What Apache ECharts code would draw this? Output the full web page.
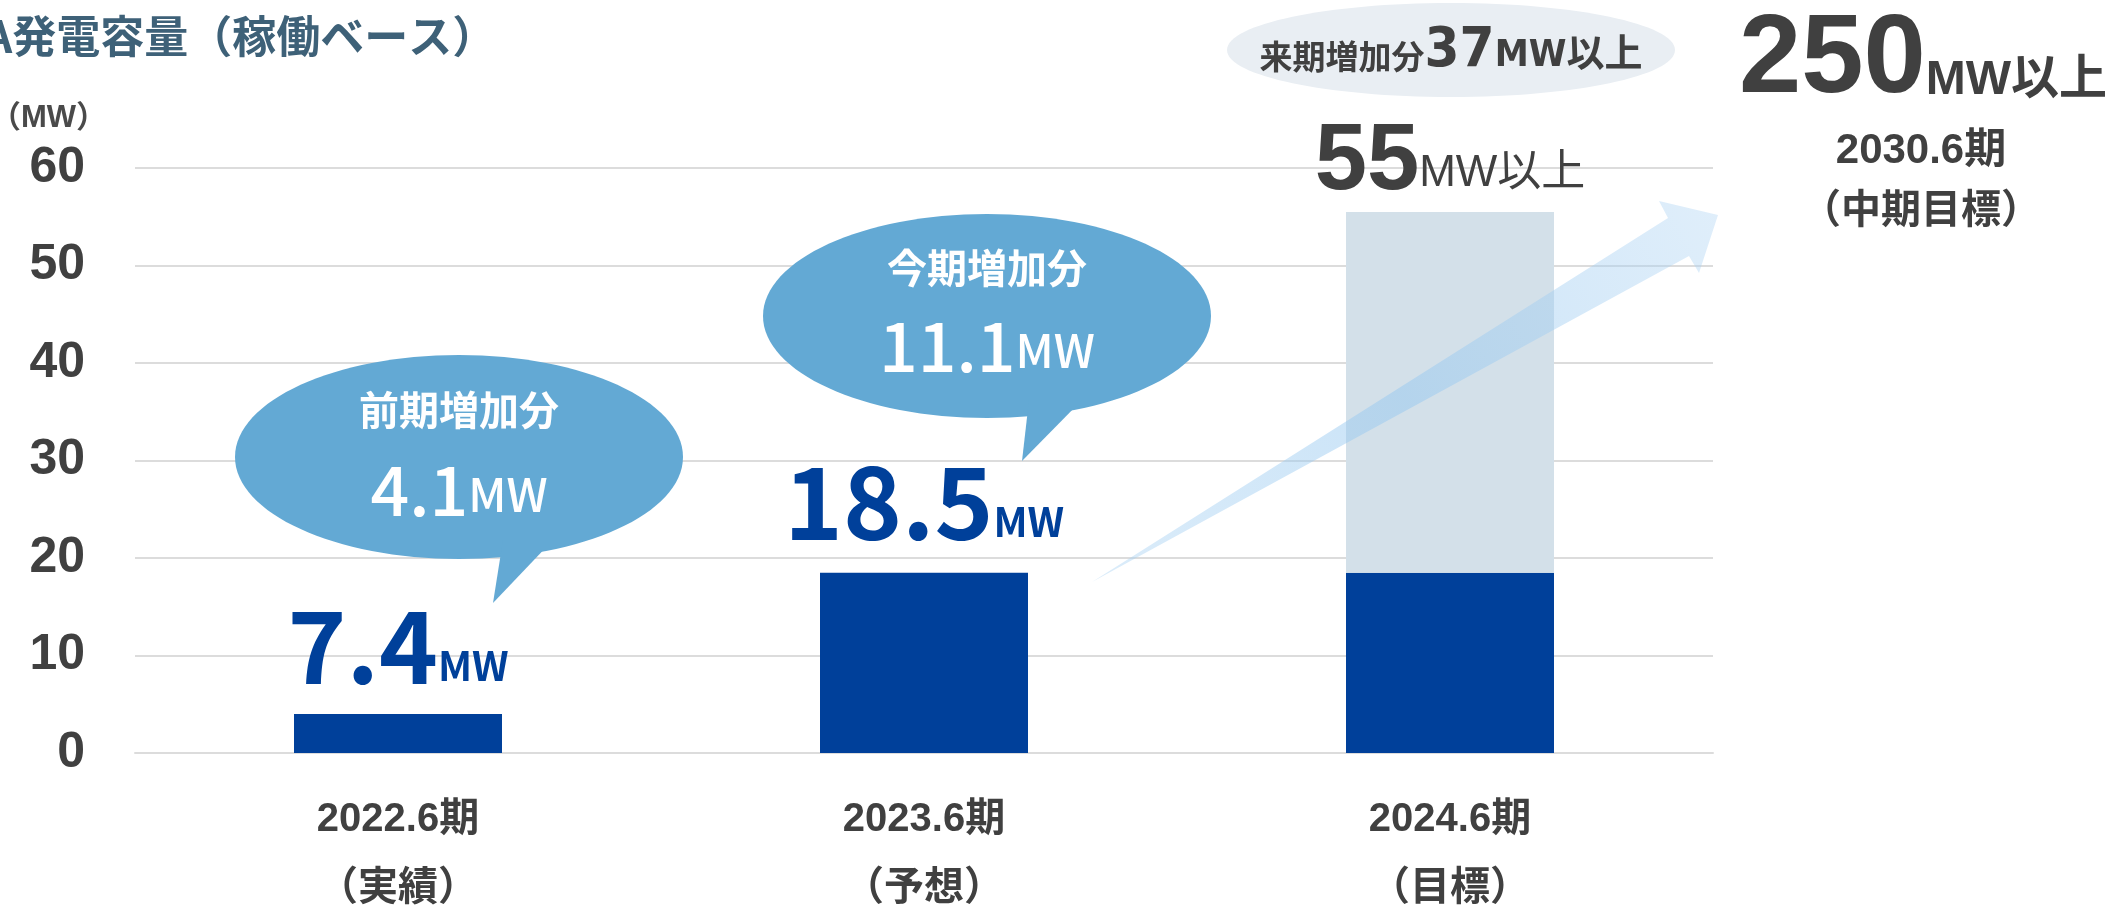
<!DOCTYPE html>
<html>
<head>
<meta charset="utf-8">
<script src="https://cdn.jsdelivr.net/npm/echarts@6/dist/echarts.min.js"></script>
<style>
html, body { margin: 0; padding: 0; background: #fff; }
#main { width: 2121px; height: 911px; }
</style>
</head>
<body>
<div id="main"></div>
<script>
// data
var periods = ['2022.6期', '2023.6期', '2024.6期'];
var notes = ['（実績）', '（予想）', '（目標）'];
var installed = [4.0, 18.5, 18.5];
var nextAdd = ['-', '-', 37];
var valueLabels = ['7.4', '18.5', '55'];
var unitLabels = ['MW', 'MW', 'MW以上'];
var yTicks = [0, 10, 20, 30, 40, 50, 60];
var bubbleTitles = ['前期増加分', '今期増加分'];
var bubbleValues = ['4.1', '11.1'];
var nextText = ['来期増加分', '37', 'MW以上'];
var goalText = ['250', 'MW以上', '2030.6期', '（中期目標）'];

var chart = echarts.init(document.getElementById('main'));

var dark = '#00409a';
var light = '#d3e0e9';
var textDark = '#404040';
var bubble = '#63a9d4';
var cjk = "'Noto Sans CJK JP', 'Noto Sans', sans-serif";
var narrow = "'DejaVu Sans Condensed', 'Liberation Sans Narrow', 'Liberation Sans', 'Noto Sans CJK JP', sans-serif";
var sans = "'Liberation Sans', 'Noto Sans CJK JP', sans-serif";

var labelDist = [18, 21, 18];

var option = {
	backgroundColor: '#fff',
	animation: false,
	grid: { left: 135, right: 408, top: 168, bottom: 158, outerBoundsMode: 'none', containLabel: false },
	xAxis: {
		type: 'category',
		data: periods.map(function(p, i) { return p + '\n' + notes[i]; }),
		axisLine: { lineStyle: { color: '#dcdcdc', width: 2 } },
		axisTick: { show: false },
		axisLabel: {
			margin: 32,
			fontSize: 40,
			fontWeight: 'bold',
			color: textDark,
			lineHeight: 69,
			fontFamily: sans
		}
	},
	yAxis: {
		type: 'value',
		min: yTicks[0],
		max: yTicks[yTicks.length - 1],
		interval: yTicks[1] - yTicks[0],
		name: '（MW）',
		nameLocation: 'end',
		nameGap: 34,
		nameTextStyle: {
			fontSize: 31,
			fontWeight: 'bold',
			color: '#4a4a4a',
			fontFamily: sans,
			align: 'right',
			padding: [0, 28, 0, 0]
		},
		axisLine: { show: false },
		axisTick: { show: false },
		splitLine: { lineStyle: { color: '#dcdcdc', width: 2 } },
		axisLabel: {
			margin: 50,
			fontSize: 50,
			fontWeight: 'bold',
			color: textDark,
			fontFamily: sans
		}
	},
	series: [{
		name: 'installed',
		type: 'bar',
		stack: 'mw',
		barWidth: 208,
		itemStyle: { color: dark },
		data: installed.map(function(v, i) {
			return { value: v, label: { show: i < 2, distance: labelDist[i] } };
		}),
		label: {
			position: 'top',
			formatter: function(p) {
				return '{big|' + valueLabels[p.dataIndex] + '}{unit|' + unitLabels[p.dataIndex] + '}';
			},
			rich: {
				big: { fontSize: 100, fontWeight: 'bold', color: dark, fontFamily: cjk, lineHeight: 100, verticalAlign: 'bottom' },
				unit: { fontSize: 40, fontWeight: 'bold', color: dark, fontFamily: cjk, lineHeight: 40, verticalAlign: 'bottom', padding: [0, 0, 10, 0] }
			}
		}
	}, {
		name: 'next',
		type: 'bar',
		stack: 'mw',
		barWidth: 208,
		itemStyle: { color: light },
		data: nextAdd,
		label: {
			show: true,
			position: 'top',
			distance: 2,
			formatter: function(p) {
				return '{big|' + valueLabels[p.dataIndex] + '}{unit|' + unitLabels[p.dataIndex] + '}';
			},
			rich: {
				big: { fontSize: 94, fontWeight: 'bold', color: textDark, fontFamily: sans, lineHeight: 100, verticalAlign: 'bottom' },
				unit: { fontSize: 44, color: textDark, fontFamily: sans, lineHeight: 44, verticalAlign: 'bottom', padding: [0, 0, 14, 0] }
			}
		}
	}],
	graphic: [
		{
			type: 'text', x: -16, y: 36, z: 10,
			style: { text: 'A発電容量（稼働ベース）', fill: '#3e6178', fontSize: 44, fontWeight: 'bold', fontFamily: cjk, align: 'left', verticalAlign: 'middle' }
		},
		// bubble 1
		{ type: 'ellipse', z: 10, shape: { cx: 459, cy: 457, rx: 224, ry: 102 }, style: { fill: bubble } },
		{ type: 'polygon', z: 10, shape: { points: [[503, 540], [553, 540], [493, 603]] }, style: { fill: bubble } },
		{
			type: 'text', x: 459, y: 410, z: 11,
			style: { text: bubbleTitles[0], fill: '#fff', fontSize: 40, fontWeight: 'bold', fontFamily: cjk, align: 'center', verticalAlign: 'middle' }
		},
		{
			type: 'text', x: 459, y: 524, z: 11,
			style: {
				text: '{v|' + bubbleValues[0] + '}{u|MW}', align: 'center', verticalAlign: 'bottom',
				rich: {
					v: { fontSize: 68, fill: '#fff', fontWeight: 500, fontFamily: cjk, lineHeight: 68, verticalAlign: 'bottom' },
					u: { fontSize: 46, fill: '#fff', fontWeight: 500, fontFamily: cjk, lineHeight: 46, verticalAlign: 'bottom', padding: [0, 0, 6, 0] }
				}
			}
		},
		// bubble 2
		{ type: 'ellipse', z: 10, shape: { cx: 987, cy: 316, rx: 224, ry: 102 }, style: { fill: bubble } },
		{ type: 'polygon', z: 10, shape: { points: [[1029, 400], [1082, 400], [1022, 461]] }, style: { fill: bubble } },
		{
			type: 'text', x: 987, y: 268, z: 11,
			style: { text: bubbleTitles[1], fill: '#fff', fontSize: 40, fontWeight: 'bold', fontFamily: cjk, align: 'center', verticalAlign: 'middle' }
		},
		{
			type: 'text', x: 987, y: 380, z: 11,
			style: {
				text: '{v|' + bubbleValues[1] + '}{u|MW}', align: 'center', verticalAlign: 'bottom',
				rich: {
					v: { fontSize: 68, fill: '#fff', fontWeight: 500, fontFamily: cjk, lineHeight: 68, verticalAlign: 'bottom' },
					u: { fontSize: 46, fill: '#fff', fontWeight: 500, fontFamily: cjk, lineHeight: 46, verticalAlign: 'bottom', padding: [0, 0, 6, 0] }
				}
			}
		},
		// arrow
		{
			type: 'polygon', z: 10,
			shape: { points: [[1092, 582], [1668, 218], [1659, 201], [1718, 215], [1699, 273], [1689, 256]] },
			style: {
				fill: {
					type: 'linear', x: 1092, y: 582, x2: 1718, y2: 215, global: true,
					colorStops: [
						{ offset: 0, color: 'rgba(165, 208, 242, 0.4)' },
						{ offset: 0.5, color: 'rgba(150, 200, 240, 0.5)' },
						{ offset: 1, color: 'rgba(175, 212, 243, 0.4)' }
					]
				}
			}
		},
		// next period ellipse
		{ type: 'ellipse', z: 10, shape: { cx: 1451, cy: 50, rx: 224, ry: 47 }, style: { fill: '#e9eef3' } },
		{
			type: 'text', x: 1451, y: 79, z: 11,
			style: {
				text: '{a|' + nextText[0] + '}{b|' + nextText[1] + '}{c|' + nextText[2] + '}', align: 'center', verticalAlign: 'bottom',
				rich: {
					a: { fontSize: 33, fill: textDark, fontWeight: 'bold', fontFamily: narrow, lineHeight: 33, verticalAlign: 'bottom', padding: [0, 0, 2, 0] },
					b: { fontSize: 56, fill: textDark, fontWeight: 'bold', fontFamily: narrow, lineHeight: 56, verticalAlign: 'bottom' },
					c: { fontSize: 38, fill: textDark, fontWeight: 'bold', fontFamily: narrow, lineHeight: 38, verticalAlign: 'bottom', padding: [0, 0, 4, 0] }
				}
			}
		},
		// mid-term target
		{
			type: 'text', x: 1923, y: 117, z: 11,
			style: {
				text: '{a|' + goalText[0] + '}{b|' + goalText[1] + '}', align: 'center', verticalAlign: 'bottom',
				rich: {
					a: { fontSize: 112, fill: textDark, fontWeight: 'bold', fontFamily: sans, lineHeight: 112, verticalAlign: 'bottom' },
					b: { fontSize: 48, fill: textDark, fontWeight: 'bold', fontFamily: sans, lineHeight: 48, verticalAlign: 'bottom', padding: [0, 0, 12, 0] }
				}
			}
		},
		{
			type: 'text', x: 1921, y: 151, z: 11,
			style: { text: goalText[2], fill: textDark, fontSize: 42, fontWeight: 'bold', fontFamily: sans, align: 'center', verticalAlign: 'middle' }
		},
		{
			type: 'text', x: 1921, y: 212, z: 11,
			style: { text: goalText[3], fill: textDark, fontSize: 40, fontWeight: 'bold', fontFamily: sans, align: 'center', verticalAlign: 'middle' }
		}
	]
};

chart.setOption(option);
window.addEventListener('resize', function() {
	chart.resize();
});
</script>
</body>
</html>
